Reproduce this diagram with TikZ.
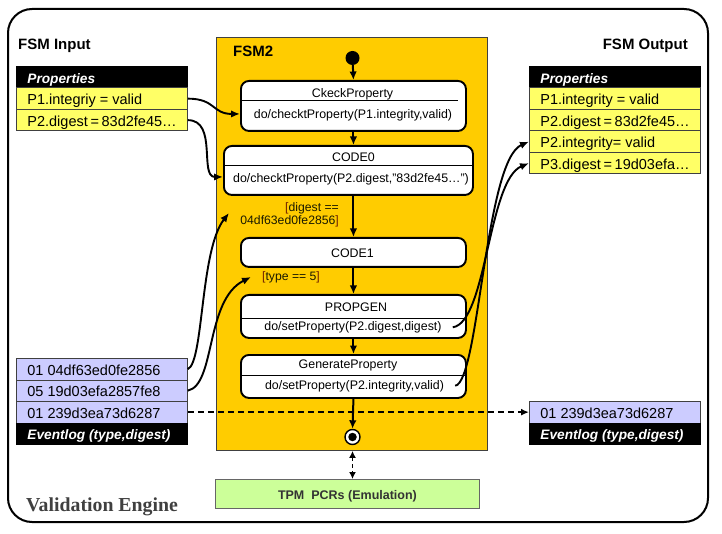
\documentclass[tikz,border=0pt]{standalone}
\usepackage{fontspec}
\setmainfont{Liberation Sans}
\newfontfamily\serifbold{Liberation Serif}
\usetikzlibrary{arrows.meta}
\definecolor{fsmyellow}{HTML}{FFCC00}
\definecolor{propyellow}{HTML}{FFFF66}
\definecolor{evlav}{HTML}{CCCCFF}
\definecolor{tpmgreen}{HTML}{CCFF99}
\definecolor{rowgray}{HTML}{404040}
\definecolor{vegray}{HTML}{404040}
\definecolor{guardbr}{HTML}{702000}
\definecolor{guardtx}{HTML}{1A1A00}
\begin{document}
\begin{tikzpicture}[x=1pt,y=-1pt,
  tbl/.style={draw=rowgray, line width=0.8pt, anchor=north west, minimum width=171pt,
    minimum height=21.5pt, inner xsep=11pt, inner ysep=0pt, text height=12.4pt, text depth=0pt,
    font=\fontsize{14.5}{17}\selectfont,
    execute at begin node={\hbox to 149pt\bgroup}, execute at end node={\hfil\egroup}},
  prow/.style={tbl, fill=propyellow},
  erow/.style={tbl, fill=evlav},
  thead/.style={tbl, fill=black, draw=black, text=white, font=\fontsize{13.7}{16}\selectfont\bfseries\itshape},
  stbox/.style={draw=black, line width=1.9pt, rounded corners=8pt, fill=white, anchor=north west, inner sep=0pt},
  sttxt/.style={font=\fontsize{12.4}{14}\selectfont, anchor=base, inner sep=0pt},
  divl/.style={line width=1pt},
  trans/.style={line width=2pt, -{Latex[length=8.5pt,width=7.5pt]}},
  conn/.style={line width=1.9pt, -{Latex[length=9pt,width=7.5pt]}},
  lbl/.style={anchor=base west, inner sep=0pt, font=\bfseries\fontsize{15}{18}\selectfont},
  guard/.style={inner sep=0pt, text=guardtx, font=\fontsize{12.2}{13}\selectfont}
]
\useasboundingbox (0,0) rectangle (722,534);

% outer frame
\draw[line width=2pt, rounded corners=24pt] (8,9) rectangle (708,522);

% FSM2 region
\node[draw=rowgray, line width=0.9pt, fill=fsmyellow, anchor=north west, minimum width=271pt, minimum height=413pt, inner sep=0pt] (fsm) at (216,37) {};
\node[lbl] (fsmlbl) at (233,57) {FSM2};

% labels
\node[lbl] (inlbl) at (18,50) {FSM Input};
\node[lbl, anchor=base east] (outlbl) at (688,50) {FSM Output};
\node[anchor=base west, inner sep=0pt, text=vegray, font=\serifbold\bfseries\fontsize{19.8}{22}\selectfont] (ve) at (26,511.5) {Validation Engine};

% input properties
\node[thead] (ph) at (16,66) {Properties};
\node[prow] (p1) at (16,87.5) {P1.integriy = valid};
\node[prow] (p2) at (16,109) {P2.digest = 83d2fe45…};

% output properties
\node[thead] (rh) at (529,66) {Properties};
\node[prow] (r1) at (529,87.5) {P1.integrity = valid};
\node[prow] (r2) at (529,109) {P2.digest = 83d2fe45…};
\node[prow] (r3) at (529,130.5) {P2.integrity= valid};
\node[prow] (r4) at (529,152) {P3.digest = 19d03efa…};

% input event log
\node[erow] (e1) at (16,358) {01 04df63ed0fe2856};
\node[erow] (e2) at (16,379.5) {05 19d03efa2857fe8};
\node[erow] (e3) at (16,401) {01 239d3ea73d6287};
\node[thead] (eh) at (16,422.5) {Eventlog (type,digest)};

% output event log
\node[erow] (re1) at (529,401) {01 239d3ea73d6287};
\node[thead] (reh) at (529,422.5) {Eventlog (type,digest)};

% states
\node[circle, fill=black, inner sep=0pt, minimum size=14pt] (init) at (352.5,58) {};

\node[stbox, minimum width=225pt, minimum height=50pt] (s1) at (240,80) {};
\node[sttxt] (s1t) at (352.5,97.5) {CkeckProperty};
\node[sttxt] (s1b) at (353,118.5) {do/checktProperty(P1.integrity,valid)};
\draw[divl] (240,101) -- (458,101);

\node[stbox, minimum width=249pt, minimum height=49pt] (s2) at (223,145) {};
\node[sttxt] (s2t) at (353.5,162) {CODE0};
\node[sttxt] (s2b) at (351,183) {do/checktProperty(P2.digest,"83d2fe45…")};
\draw[divl] (223,166) -- (472,166);

\node[stbox, minimum width=225pt, minimum height=29pt] (s3) at (240,237) {};
\node[sttxt] (s3t) at (352.5,258) {CODE1};

\node[stbox, minimum width=225pt, minimum height=43pt] (s4) at (240,294) {};
\node[sttxt] (s4t) at (356,311.5) {PROPGEN};
\node[sttxt] (s4b) at (353,330.5) {do/setProperty(P2.digest,digest)};
\draw[divl] (240,318) -- (465,318);

\node[stbox, minimum width=225pt, minimum height=43pt] (s5) at (240,354) {};
\node[sttxt] (s5t) at (348,368.3) {GenerateProperty};
\node[sttxt] (s5b) at (354.5,389) {do/setProperty(P2.integrity,valid)};
\draw[divl] (240,375) -- (465,375);

\node[circle, draw=black, line width=1.4pt, fill=white, inner sep=0pt, minimum size=15pt] (final) at (352.5,437) {};
\node[circle, fill=black, inner sep=0pt, minimum size=8.5pt] (finalin) at (final) {};

% guards
\node[guard, align=right, anchor=east] (g1) at (339,214.4) {\textcolor{guardbr}{[}digest ==\\04df63ed0fe2856\textcolor{guardbr}{]}};
\node[guard, anchor=base west] (g2) at (262,281) {\textcolor{guardbr}{[}type == 5\textcolor{guardbr}{]}};
\coordinate (g1tip) at (229,213);
\coordinate (g2tip) at (251,277);

% transitions
\draw[trans] (init) -- (s1.north);
\draw[trans] (s1.south) -- (s1.south |- s2.north);
\draw[trans] (s3.north |- s2.south) -- (s3.north);
\draw[trans] (s3.south) -- (s4.north);
\draw[trans] (s4.south) -- (s5.north);
\draw[trans] (s5.south) -- (final.north);

% connectors from input
\draw[conn] (p1.east) .. controls +(28,0) and +(-28,0) .. ([yshift=-8pt]s1.west);
\draw[conn] (p2.east) .. controls +(30,0) and +(-24,0) .. ([yshift=-6.5pt]s2.west);
\draw[conn] (e1.east) .. controls +(16,-7) and +(-29,37) .. (g1tip);
\draw[conn] (e2.east) .. controls +(28,-6) and +(-46,23) .. (g2tip);

% connectors to output
\draw[conn] ([xshift=11pt]s4b.east) .. controls +(34,-5) and +(-41,17) .. (r4.west);
\draw[conn] ([xshift=11pt]s5b.east) .. controls +(24,-4) and +(-44,19) .. (r3.west);

% event log copy
\draw[line width=1.7pt, dash pattern=on 6pt off 4pt, -{Latex[length=8pt,width=7pt]}] (e3.east) -- (re1.west |- e3.east);

% TPM
\node[draw=rowgray!80, line width=0.9pt, fill=tpmgreen, anchor=north west, minimum width=264pt, minimum height=29pt,
  text height=11.6pt, text depth=0pt, text=black!80, font=\bfseries\fontsize{12.5}{15}\selectfont] (tpm) at (215,479) {TPM~~PCRs (Emulation)};
\draw[line width=1.7pt, dash pattern=on 4pt off 3pt, {Latex[length=7pt,width=7pt]}-{Latex[length=7pt,width=7pt]}] (fsm.south -| final) -- (tpm.north -| final);
\end{tikzpicture}
\end{document}
